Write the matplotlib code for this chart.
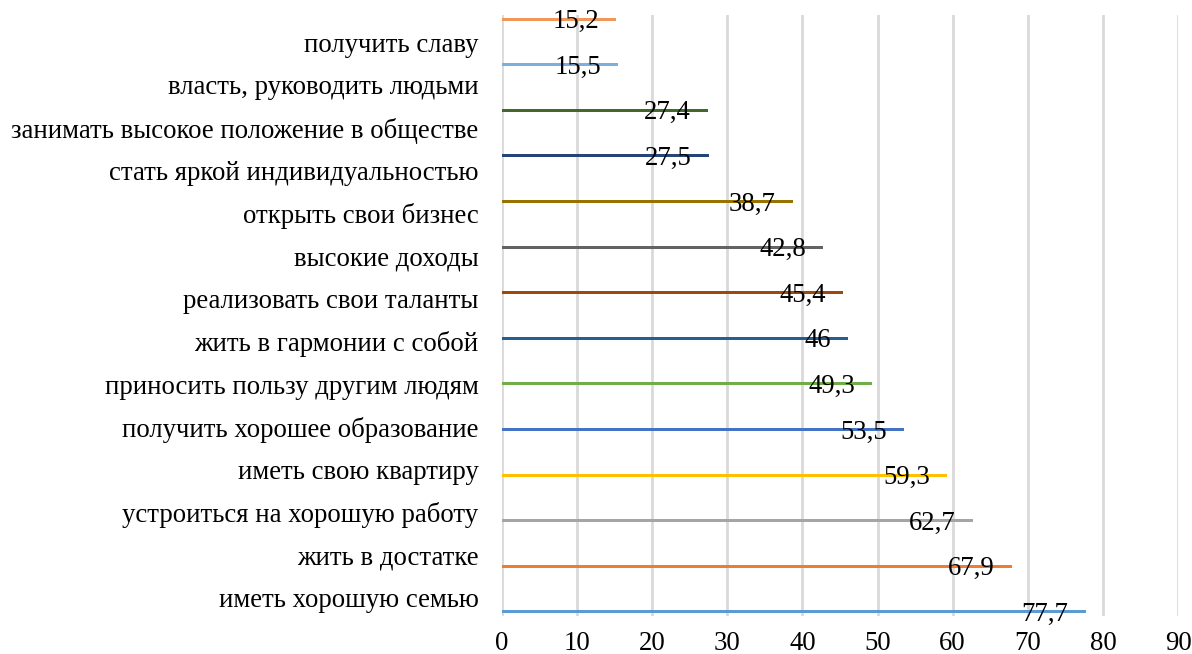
import matplotlib
matplotlib.use("Agg")
import matplotlib.pyplot as plt
from matplotlib.transforms import offset_copy

categories = [
    "иметь хорошую семью",
    "жить в достатке",
    "устроиться на хорошую работу",
    "иметь свою квартиру",
    "получить хорошее образование",
    "приносить пользу другим людям",
    "жить в гармонии с собой",
    "реализовать свои таланты",
    "высокие доходы",
    "открыть свои бизнес",
    "стать яркой индивидуальностью",
    "занимать высокое положение в обществе",
    "власть, руководить людьми",
    "получить славу",
]
values = [77.7, 67.9, 62.7, 59.3, 53.5, 49.3, 46, 45.4, 42.8, 38.7, 27.5, 27.4, 15.5, 15.2]
colors = ["#5B9BD5", "#ED7D31", "#A5A5A5", "#FFC000", "#4472C4", "#70AD47",
          "#255E91", "#9E480E", "#636363", "#997300", "#264478", "#43682B",
          "#7CAFDD", "#F1975A"]
xticks = [0, 10, 20, 30, 40, 50, 60, 70, 80, 90]

plt.rcParams['font.family'] = ['Liberation Serif', 'DejaVu Serif']
FS = 19.3

fig = plt.figure(figsize=(11.92, 6.54), dpi=100)
ax = fig.add_axes([502/1192, (654-616)/654, (1178-502)/1192, (616-15)/654])

pos = list(range(len(values)))
ax.barh(pos, values, height=0.066, color=colors, zorder=3)

for p, v in zip(pos, values):
    tr = offset_copy(ax.transData, fig=fig, x=-17, y=-9, units='dots')
    lab = f"{v:g}".replace('.', ',')
    ax.text(v, p, lab, ha='right', va='baseline', fontsize=FS, color='black',
            transform=tr, zorder=4)

ax.set_xlim(0, 90)
ax.set_ylim(-0.088, 13.09)
ax.set_xticks(xticks)
ax.set_xticklabels([str(t) for t in xticks], fontsize=FS)
label_pos = [0.307 + 0.9377 * i for i in pos]
ax.set_yticks(label_pos)
ax.set_yticklabels(categories, fontsize=FS)
ax.tick_params(axis='both', length=0)
ax.tick_params(axis='x', pad=11)
ax.tick_params(axis='y', pad=17)
ax.grid(axis='x', color='#D9D9D9', linewidth=2, zorder=0)
ax.grid(axis='y', visible=False)
for s in ax.spines.values():
    s.set_visible(False)

fig.savefig("out.png", dpi=100)
